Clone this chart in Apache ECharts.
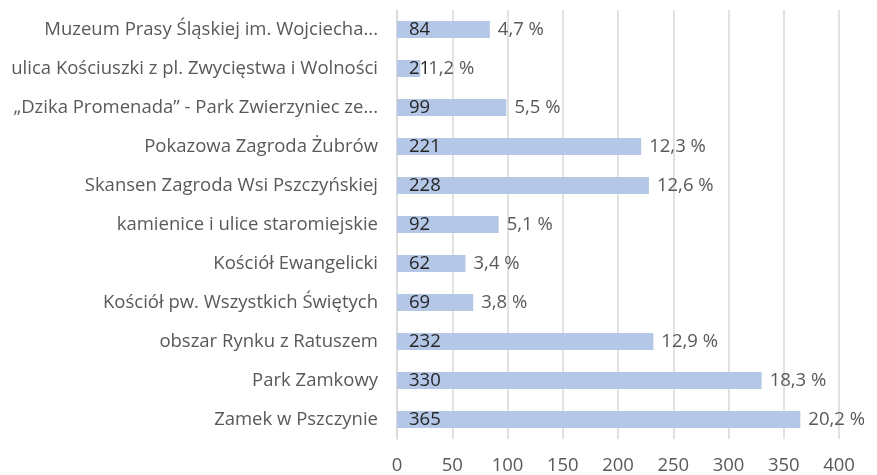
<!DOCTYPE html>
<html>
<head>
<meta charset="utf-8">
<script src="https://cdn.jsdelivr.net/npm/echarts@6/dist/echarts.min.js"></script>
<style>
  html, body { margin: 0; padding: 0; background: #fff; }
  #chart { width: 877px; height: 475px; }
</style>
</head>
<body>
<div id="chart"></div>
<script>
const categories = [
  'Muzeum Prasy Śląskiej im. Wojciecha...',
  'ulica Kościuszki z pl. Zwycięstwa i Wolności',
  '„Dzika Promenada” - Park Zwierzyniec ze...',
  'Pokazowa Zagroda Żubrów',
  'Skansen Zagroda Wsi Pszczyńskiej',
  'kamienice i ulice staromiejskie',
  'Kościół Ewangelicki',
  'Kościół pw. Wszystkich Świętych',
  'obszar Rynku z Ratuszem',
  'Park Zamkowy',
  'Zamek w Pszczynie'
]
const counts = [84, 21, 99, 221, 228, 92, 62, 69, 232, 330, 365]
const percents = ['4,7', '1,2', '5,5', '12,3', '12,6', '5,1', '3,4', '3,8', '12,9', '18,3', '20,2']
const xTicks = { min: 0, max: 400, interval: 50 }

const font = '"Open Sans", "Noto Sans", sans-serif'
const chart = echarts.init(document.getElementById('chart'))
chart.setOption({
  backgroundColor: '#fff',
  animation: false,
  grid: {
    left: 397,
    right: 38,
    top: 10,
    bottom: 35
  },
  xAxis: {
    type: 'value',
    min: xTicks.min,
    max: xTicks.max,
    interval: xTicks.interval,
    axisLine: { show: false },
    axisTick: { show: false },
    splitLine: {
      lineStyle: { color: '#d9d9d9', width: 1.5 }
    },
    axisLabel: {
      color: '#595959',
      fontFamily: font,
      fontSize: 18.5,
      margin: 17
    }
  },
  yAxis: {
    type: 'category',
    inverse: true,
    data: categories,
    axisLine: {
      show: true,
      lineStyle: { color: '#d9d9d9', width: 1.5 }
    },
    axisTick: { show: false },
    axisLabel: {
      color: '#595959',
      fontFamily: font,
      fontSize: 18.5,
      margin: 19
    }
  },
  series: [
    {
      // visible bars, count inside
      type: 'bar',
      data: counts,
      barWidth: 17,
      itemStyle: { color: '#b4c7e7' },
      label: {
        show: true,
        position: 'insideLeft',
        distance: 12,
        color: '#262626',
        fontFamily: font,
        fontSize: 18.5
      },
      z: 2
    },
    {
      // transparent overlay to carry the percent labels
      type: 'bar',
      data: counts,
      barWidth: 17,
      barGap: '-100%',
      itemStyle: { color: 'rgba(0,0,0,0)' },
      label: {
        show: true,
        position: 'right',
        distance: 8,
        color: '#595959',
        fontFamily: font,
        fontSize: 18.5,
        formatter(p) {
          return percents[p.dataIndex] + ' %'
        }
      },
      z: 3
    }
  ]
})
</script>
</body>
</html>
